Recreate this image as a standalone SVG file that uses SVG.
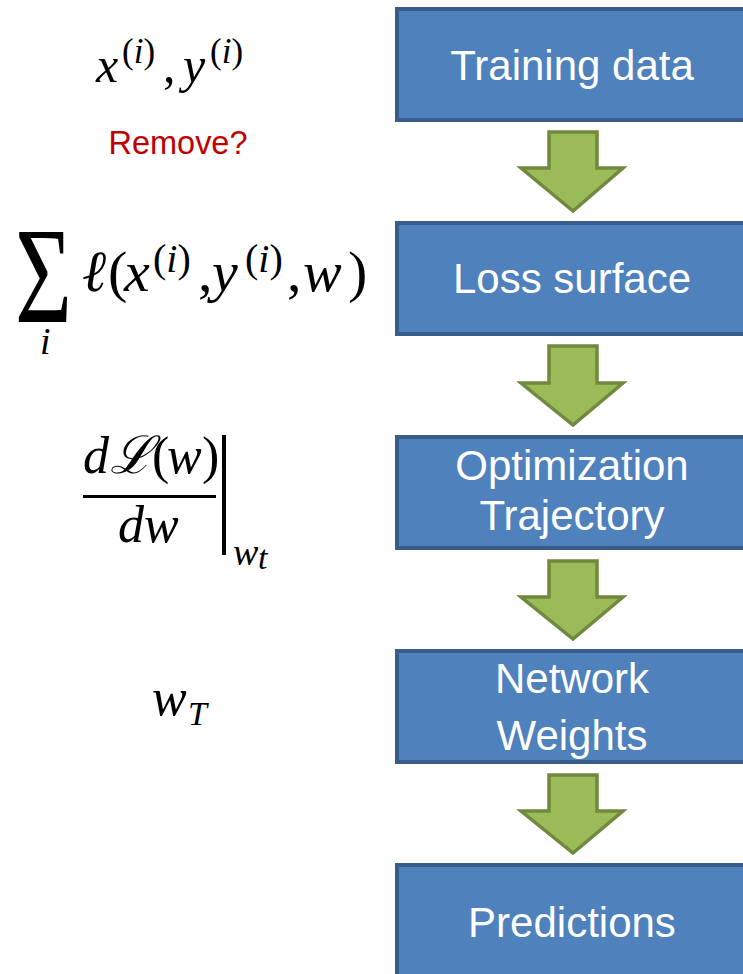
<svg xmlns="http://www.w3.org/2000/svg" width="743" height="974" viewBox="0 0 743 974">
<style>
.box{fill:#4F81BD;stroke:#385D8A;stroke-width:4}
.arr{fill:#9BBB59;stroke:#71893F;stroke-width:3.5;stroke-linejoin:miter}
.lbl{font-family:"Liberation Sans",Arial,sans-serif;font-size:42px;fill:#FFFFFF;text-anchor:middle}
.m{font-family:"Liberation Serif","Times New Roman",serif;fill:#000}
.it{font-style:italic}
.red{font-family:"Liberation Sans",Arial,sans-serif;font-size:33px;fill:#C00000;text-anchor:middle}
</style>
<rect width="743" height="974" fill="#FFFFFF"/>
<g id="connectors">
<path class="arr" d="M549,132 H597 V168 H623 L573,211 L521,168 H549 Z"/>
<path class="arr" d="M549,346 H597 V383 H623 L573,425 L521,383 H549 Z"/>
<path class="arr" d="M549,561 H597 V597 H623 L573,639 L521,597 H549 Z"/>
<path class="arr" d="M549,775 H597 V811 H623 L573,853 L521,811 H549 Z"/>
</g>
<g id="n1"><rect class="box" x="397" y="9" width="360" height="111"/><text class="lbl" x="572" y="80">Training data</text></g>
<g id="n2"><rect class="box" x="397" y="223" width="360" height="111"/><text class="lbl" x="572" y="293">Loss surface</text></g>
<g id="n3"><rect class="box" x="397" y="437" width="360" height="111"/><text class="lbl" x="572" y="480">Optimization</text><text class="lbl" x="572" y="530">Trajectory</text></g>
<g id="n4"><rect class="box" x="397" y="651" width="360" height="111"/><text class="lbl" x="572" y="693">Network</text><text class="lbl" x="572" y="750">Weights</text></g>
<g id="n5"><rect class="box" x="397" y="865" width="360" height="120"/><text class="lbl" x="572" y="937">Predictions</text></g>
<g id="math1">
<text class="m" font-size="50"><tspan class="it" x="96" y="82">x</tspan><tspan x="122" y="63" font-size="35">(<tspan class="it">i</tspan>)</tspan><tspan x="163" y="82">,</tspan><tspan class="it" x="183" y="82">y</tspan><tspan x="210" y="63" font-size="35">(<tspan class="it">i</tspan>)</tspan></text>
</g>
<text class="red" x="178" y="154" textLength="139" lengthAdjust="spacingAndGlyphs">Remove?</text>
<g id="math2">
<text class="m" transform="translate(15,322) scale(0.71,1)" font-size="138">Σ</text>
<text class="m it" x="40" y="354" font-size="38">i</text>
<text class="m" font-size="58"><tspan class="it" x="82" y="291">ℓ</tspan><tspan x="108" y="291">(</tspan><tspan class="it" x="124" y="291">x</tspan><tspan x="153" y="272" font-size="40">(<tspan class="it">i</tspan>)</tspan><tspan x="198" y="291">,</tspan><tspan class="it" x="212" y="291">y</tspan><tspan x="245" y="272" font-size="40">(<tspan class="it">i</tspan>)</tspan><tspan x="287" y="291">,</tspan><tspan class="it" x="303" y="291">w</tspan><tspan x="348" y="291">)</tspan></text>
</g>
<g id="math3">
<text class="m" font-size="52"><tspan class="it" x="83" y="473">d</tspan><tspan class="it" x="110" y="473">ℒ</tspan><tspan x="152" y="473">(</tspan><tspan class="it" x="167" y="473">w</tspan><tspan x="202" y="473">)</tspan></text>
<rect x="83" y="495" width="133" height="3" fill="#000"/>
<text class="m it" x="118" y="542" font-size="52">dw</text>
<rect x="222" y="435" width="4" height="120" fill="#000"/>
<text class="m it" font-size="38"><tspan x="233" y="565">w</tspan><tspan x="258" y="569" font-size="34">t</tspan></text>
</g>
<g id="math4">
<text class="m it" font-size="52"><tspan x="152" y="715">w</tspan><tspan x="188" y="725" font-size="34">T</tspan></text>
</g>
</svg>
